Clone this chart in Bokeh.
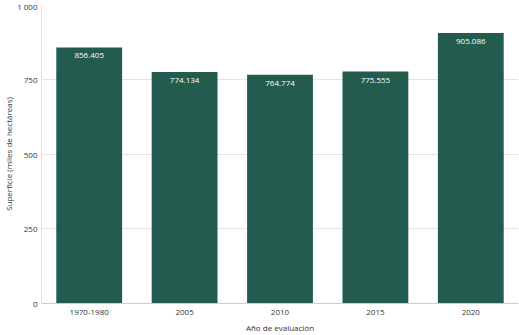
from bokeh.plotting import figure
from bokeh.models import ColumnDataSource, FixedTicker, Range1d
from bokeh.core.properties import value
from bokeh.embed import file_html
from bokeh.resources import INLINE

years = ["1970-1980", "2005", "2010", "2015", "2020"]
surface = [856.405, 774.134, 764.774, 775.555, 905.086]
labels = ["856.405", "774.134", "764.774", "775.555", "905.086"]
y_ticks = [0, 250, 500, 750, 1000]
y_tick_labels = ["0", "250", "500", "750", "1 000"]

src = ColumnDataSource(dict(x=years, y=surface, lab=labels))

p = figure(x_range=years, y_range=Range1d(0, 1000), width=519, height=335,
           output_backend="svg", toolbar_location=None,
           min_border_left=5, min_border_right=1, min_border_top=4, min_border_bottom=10)
p.outline_line_color = None

p.vbar(x="x", top="y", width=0.69, source=src, fill_color="#235B4E", line_color=None)
p.text(x="x", y="y", text="lab", source=src, text_color="white",
       text_font=value("Open Sans"), text_font_size="8px",
       text_align="center", text_baseline="top", y_offset=6)

p.yaxis.ticker = FixedTicker(ticks=y_ticks)
p.yaxis.major_label_overrides = {t: l for t, l in zip(y_ticks, y_tick_labels)}
p.yaxis.axis_line_color = "#e4e4e4"
p.yaxis.major_tick_line_color = None
p.yaxis.minor_tick_line_color = None
p.yaxis.major_tick_in = 0
p.yaxis.major_tick_out = 0
p.xaxis.major_tick_in = 0
p.xaxis.major_tick_out = 0
p.yaxis.axis_label = "Superficie (miles de hectáreas)"
p.xaxis.axis_label = "Año de evaluación"
p.xaxis.axis_line_color = "#cccccc"
p.xaxis.major_tick_line_color = None
p.xaxis.minor_tick_line_color = None

for ax in (p.xaxis, p.yaxis):
    ax.major_label_text_font = "Open Sans"
    ax.major_label_text_font_size = "8px"
    ax.major_label_text_color = "#333333"
    ax.axis_label_text_font = "Open Sans"
    ax.axis_label_text_font_size = "8px"
    ax.axis_label_text_font_style = "normal"
    ax.axis_label_text_color = "#333333"
p.yaxis.major_label_standoff = 4
p.xaxis.major_label_standoff = 6
p.yaxis.axis_label_standoff = 0
p.xaxis.axis_label_standoff = 4

p.xgrid.grid_line_color = None
p.ygrid.grid_line_color = "#e4e4e4"
p.x_range.range_padding = 0.0

open("out.html", "w").write(file_html(p, INLINE))
